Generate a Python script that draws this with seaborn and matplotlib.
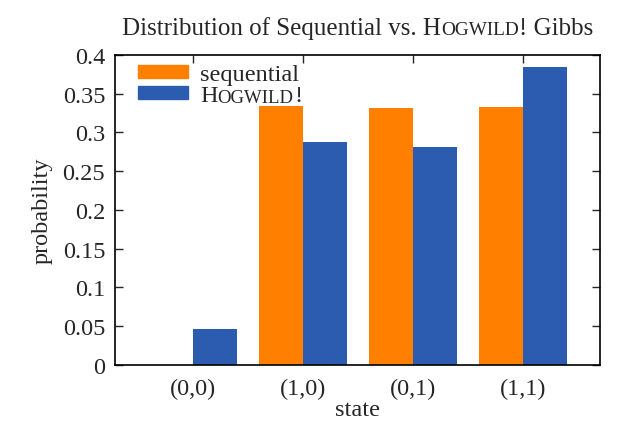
import numpy as np
import pandas as pd
import seaborn as sns
import matplotlib
matplotlib.use("agg")
import matplotlib.pyplot as plt
from matplotlib.offsetbox import TextArea, HPacker, AnchoredOffsetbox

# data
states = ["(0,0)", "(1,0)", "(0,1)", "(1,1)"]
sequential = [0.0, 0.334, 0.332, 0.333]
hogwild = [0.046, 0.288, 0.281, 0.385]
ytick_vals = [0, 0.05, 0.1, 0.15, 0.2, 0.25, 0.3, 0.35, 0.4]
ytick_labels = ["0", "0.05", "0.1", "0.15", "0.2", "0.25", "0.3", "0.35", "0.4"]

ORANGE = "#ff8000"
BLUE = "#2b5cb0"
FONT = "Liberation Serif"
FS = 17.5
TFS = 18.0
SC = 0.77  # fake small caps scale

df = pd.DataFrame({
    "state": states * 2,
    "prob": sequential + hogwild,
    "method": ["sequential"] * len(states) + ["hogwild"] * len(states),
})

sns.set_style("ticks")
plt.rcParams["font.family"] = [FONT, "DejaVu Sans"]
plt.rcParams["font.size"] = FS

fig, ax = plt.subplots(figsize=(6.35, 4.27), dpi=100)
fig.subplots_adjust(left=0.181, right=0.945, top=0.869, bottom=0.143)

sns.barplot(data=df, x="state", y="prob", hue="method", order=states,
            palette=[ORANGE, BLUE], width=0.8, saturation=1, linewidth=0,
            ax=ax, legend=False)

ax.set_xlim(-0.71, 3.7)
ax.set_ylim(0, 0.4)
ax.set_yticks(ytick_vals)
ax.set_yticklabels(ytick_labels)
ax.tick_params(axis="y", direction="in", left=True, right=True, length=6,
               width=1, labelsize=FS, pad=7)
ax.tick_params(axis="x", direction="in", bottom=False, top=True, length=6,
               width=1, labelsize=FS, pad=9)
for s in ax.spines.values():
    s.set_visible(True)
    s.set_linewidth(1.2)
    s.set_color("black")

ax.set_xlabel("state", fontsize=FS, labelpad=0)
ax.set_ylabel("probability", fontsize=FS, labelpad=7)

# title with small-caps HOGWILD
title = HPacker(children=[
    TextArea("Distribution of Sequential vs. H", textprops=dict(size=TFS, family=FONT)),
    TextArea("OGWILD", textprops=dict(size=SC * TFS, family=FONT)),
    TextArea("! Gibbs", textprops=dict(size=TFS, family=FONT)),
], align="baseline", pad=0, sep=0)
ax.add_artist(AnchoredOffsetbox(loc="lower center", child=title, pad=0, borderpad=0,
                                frameon=False, bbox_to_anchor=(0.5, 1.05),
                                bbox_transform=ax.transAxes))

# legend
handles = [plt.Rectangle((0, 0), 1, 1, color=ORANGE),
           plt.Rectangle((0, 0), 1, 1, color=BLUE)]
leg = ax.legend(handles, ["sequential", "H"], loc="upper left", frameon=False,
                fontsize=FS, handlelength=2.06, handleheight=0.42,
                labelspacing=0.0, handletextpad=0.5, borderaxespad=0.0,
                borderpad=0.0, bbox_to_anchor=(0.047, 0.97))
htxt = leg.get_texts()[1]
a1 = ax.annotate("OGWILD", xy=(1, 0), xycoords=htxt, va="bottom", ha="left",
                 fontsize=SC * FS, family=FONT, zorder=10)
ax.annotate("!", xy=(1, 0), xycoords=a1, va="bottom", ha="left",
            fontsize=FS, family=FONT, xytext=(0.5, 0),
            textcoords="offset points", zorder=11)

fig.savefig("out.png", dpi=100)
